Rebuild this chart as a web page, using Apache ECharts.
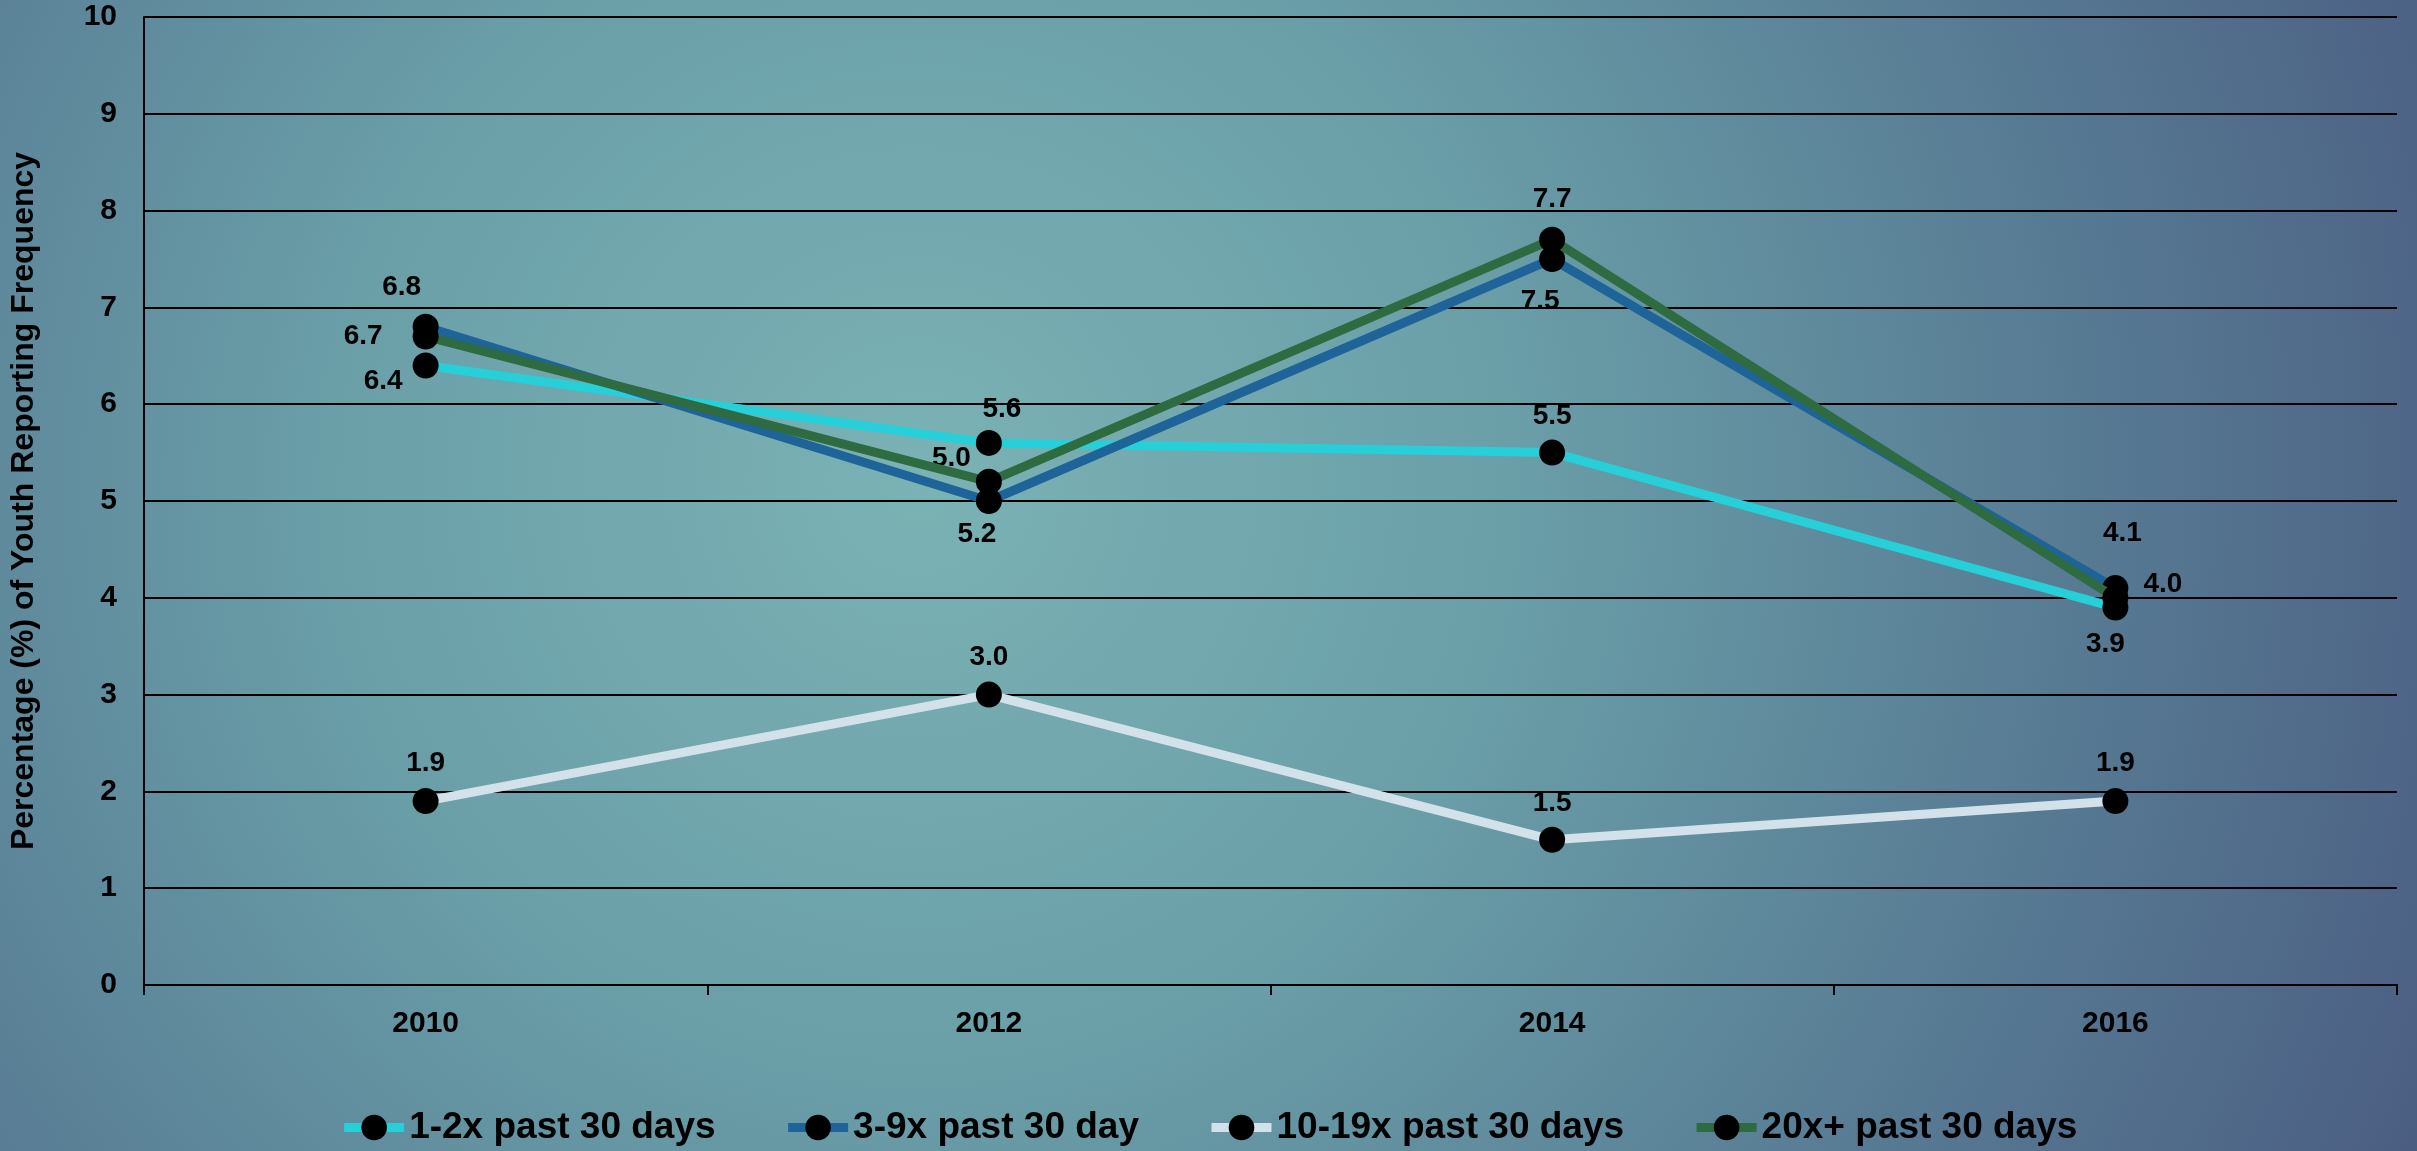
<!DOCTYPE html>
<html>
<head>
<meta charset="utf-8">
<script src="https://cdn.jsdelivr.net/npm/echarts@6/dist/echarts.min.js"></script>
<style>
html,body{margin:0;padding:0;width:100%;height:100%;overflow:hidden;}
#chart{width:2417px;height:1151px;}
</style>
</head>
<body>
<div id="chart"></div>
<script>
// ---- data ----
const years = ['2010', '2012', '2014', '2016'];
const freq1to2 = [6.4, 5.6, 5.5, 3.9];
const freq3to9 = [6.8, 5.0, 7.5, 4.1];
const freq10to19 = [1.9, 3.0, 1.5, 1.9];
const freq20plus = [6.7, 5.2, 7.7, 4.0];
const seriesNames = ['1-2x past 30 days', '3-9x past 30 day', '10-19x past 30 days', '20x+ past 30 days'];
const yAxisTitle = 'Percentage (%) of Youth Reporting Frequency';

// ---- styling ----
const FONT = '"Liberation Sans", Arial, sans-serif';
const colors = ['#27CFD8', '#1F6499', '#D3E1EA', '#2E6B40'];
const labelLayouts = [
  [{position: 'left', offset: [-5, 16]}, {position: 'top', offset: [13, -2]}, {position: 'top', offset: [0, -4]}, {position: 'bottom', offset: [-10, 5]}],
  [{position: 'top', offset: [-24, -7]}, {position: 'left', offset: [0, -43]}, {position: 'bottom', offset: [-12, 10]}, {position: 'top', offset: [7, -23]}],
  [{position: 'top', offset: [0, -6]}, {position: 'top', offset: [0, -5]}, {position: 'top', offset: [0, -5]}, {position: 'top', offset: [0, -6]}],
  [{position: 'left', offset: [-25, 0]}, {position: 'bottom', offset: [-12, 21]}, {position: 'top', offset: [0, -8]}, {position: 'right', offset: [10, -14]}]
];
const allValues = [freq1to2, freq3to9, freq10to19, freq20plus];

const chart = echarts.init(document.getElementById('chart'), null, {renderer: 'canvas'});

const series = allValues.map((vals, si) => ({
  name: seriesNames[si],
  type: 'line',
  data: vals.map((v, i) => ({
    value: v,
    label: {position: labelLayouts[si][i].position, offset: labelLayouts[si][i].offset}
  })),
  symbol: 'circle',
  symbolSize: 26,
  lineStyle: {color: colors[si], width: 9},
  itemStyle: {color: '#000000'},
  label: {
    show: true,
    color: '#000',
    fontFamily: FONT,
    fontWeight: 'bold',
    fontSize: 28,
    formatter: p => Number(p.value).toFixed(1)
  },
  z: 2 + si
}));

chart.setOption({
  backgroundColor: {
    type: 'radial',
    x: 0.38, y: 0.42, r: 1.45,
    colorStops: [
      {offset: 0, color: '#7BB2B4'},
      {offset: 0.35, color: '#6A9FA8'},
      {offset: 0.7, color: '#577A93'},
      {offset: 1, color: '#4A5C81'}
    ]
  },
  animation: false,
  grid: {left: 143, right: 20, top: 17, bottom: 166, containLabel: false},
  legend: {
    top: 1104,
    left: 'center',
    itemWidth: 60,
    itemHeight: 32,
    itemGap: 68,
    data: seriesNames,
    lineStyle: {width: 9},
    textStyle: {color: '#000', fontFamily: FONT, fontWeight: 'bold', fontSize: 37}
  },
  xAxis: {
    type: 'category',
    data: years,
    boundaryGap: true,
    axisLine: {lineStyle: {color: '#000', width: 2}},
    axisTick: {show: true, length: 10, lineStyle: {color: '#000', width: 2}},
    axisLabel: {color: '#000', fontFamily: FONT, fontWeight: 'bold', fontSize: 30, margin: 24},
    splitLine: {show: false}
  },
  yAxis: {
    type: 'value',
    min: 0, max: 10, interval: 1,
    name: yAxisTitle,
    nameLocation: 'middle',
    nameGap: 104,
    nameRotate: 90,
    nameTextStyle: {color: '#000', fontFamily: FONT, fontWeight: 'bold', fontSize: 32},
    axisLine: {show: true, lineStyle: {color: '#000', width: 2}},
    axisTick: {show: false},
    axisLabel: {color: '#000', fontFamily: FONT, fontWeight: 'bold', fontSize: 30, margin: 27},
    splitLine: {show: true, lineStyle: {color: '#000', width: 2}}
  },
  series: series
});
</script>
</body>
</html>
